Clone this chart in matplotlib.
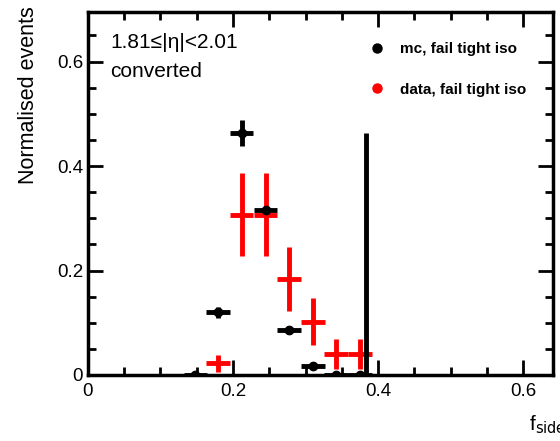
import numpy as np
import matplotlib.pyplot as plt
from matplotlib.lines import Line2D
from matplotlib.ticker import MultipleLocator

plt.rcParams['font.family'] = ['Liberation Sans', 'DejaVu Sans']

# bin centres in f_side
x_bins = [0.148, 0.179, 0.212, 0.245, 0.277, 0.310, 0.342, 0.375]
x_half = 0.0162

mc_y = [0.0, 0.120, 0.464, 0.316, 0.086, 0.018, 0.0, 0.0]
mc_err = [0.002, 0.010, 0.025, 0.006, 0.008, 0.004, 0.002, 0.002]

# stray mc bin with huge error
spike_x = [0.383]
spike_y = [0.0]
spike_err = [0.463]

data_x = [0.179, 0.212, 0.245, 0.277, 0.310, 0.342, 0.375]
data_y = [0.022, 0.307, 0.307, 0.184, 0.102, 0.040, 0.040]
data_err = [0.017, 0.079, 0.079, 0.061, 0.045, 0.028, 0.028]

fig = plt.figure(figsize=(5.6, 4.41), dpi=100)
ax = fig.add_axes([0.157, 0.1497, 0.8305, 0.8233])

ax.errorbar(x_bins, mc_y, xerr=x_half, yerr=mc_err, fmt='o', color='black',
            ms=6, elinewidth=3.5, capsize=0, zorder=3)
ax.errorbar(spike_x, spike_y, yerr=[[0.0], spike_err], fmt='none', ecolor='black',
            elinewidth=3.5, capsize=0, zorder=3)
ax.errorbar(data_x, data_y, xerr=x_half, yerr=data_err, fmt='none', ecolor='#ff0000',
            elinewidth=3.5, capsize=0, zorder=2)

ax.set_xlim(0, 0.641)
ax.set_ylim(0, 0.695)

ax.xaxis.set_major_locator(MultipleLocator(0.2))
ax.xaxis.set_minor_locator(MultipleLocator(0.05))
ax.yaxis.set_major_locator(MultipleLocator(0.2))
ax.yaxis.set_minor_locator(MultipleLocator(0.05))
ax.xaxis.set_major_formatter(plt.FuncFormatter(lambda v, p: '0' if v == 0 else f'{v:g}'))
ax.yaxis.set_major_formatter(plt.FuncFormatter(lambda v, p: '0' if v == 0 else f'{v:g}'))
ax.tick_params(which='both', direction='in', top=True, right=True, width=2, labelsize=13.5)
ax.tick_params(which='major', length=11)
ax.tick_params(which='minor', length=6)
ax.tick_params(axis='x', pad=6)
for s in ax.spines.values():
    s.set_linewidth(2.5)

ax.set_ylabel('Normalised events', fontsize=15.5, ha='right')
ax.yaxis.set_label_coords(-0.105, 1.015)
ax.text(0.948, -0.105, r'f$_{\mathrm{side}}$', transform=ax.transAxes, fontsize=15,
        ha='left', va='top')

ax.text(0.048, 0.915, '1.81≤|η|<2.01', transform=ax.transAxes, fontsize=15, va='center')
ax.text(0.048, 0.835, 'converted', transform=ax.transAxes, fontsize=15, va='center')

handles = [Line2D([], [], marker='o', ls='none', color='black', ms=6.5),
           Line2D([], [], marker='o', ls='none', color='#ff0000', ms=6.5)]
ax.legend(handles, ['mc, fail tight iso', 'data, fail tight iso'], loc='upper left',
          bbox_to_anchor=(0.56, 0.955), frameon=False, labelspacing=1.75,
          handletextpad=0.45, prop={'weight': 'bold', 'size': 11})

fig.savefig('out.png', dpi=100)
